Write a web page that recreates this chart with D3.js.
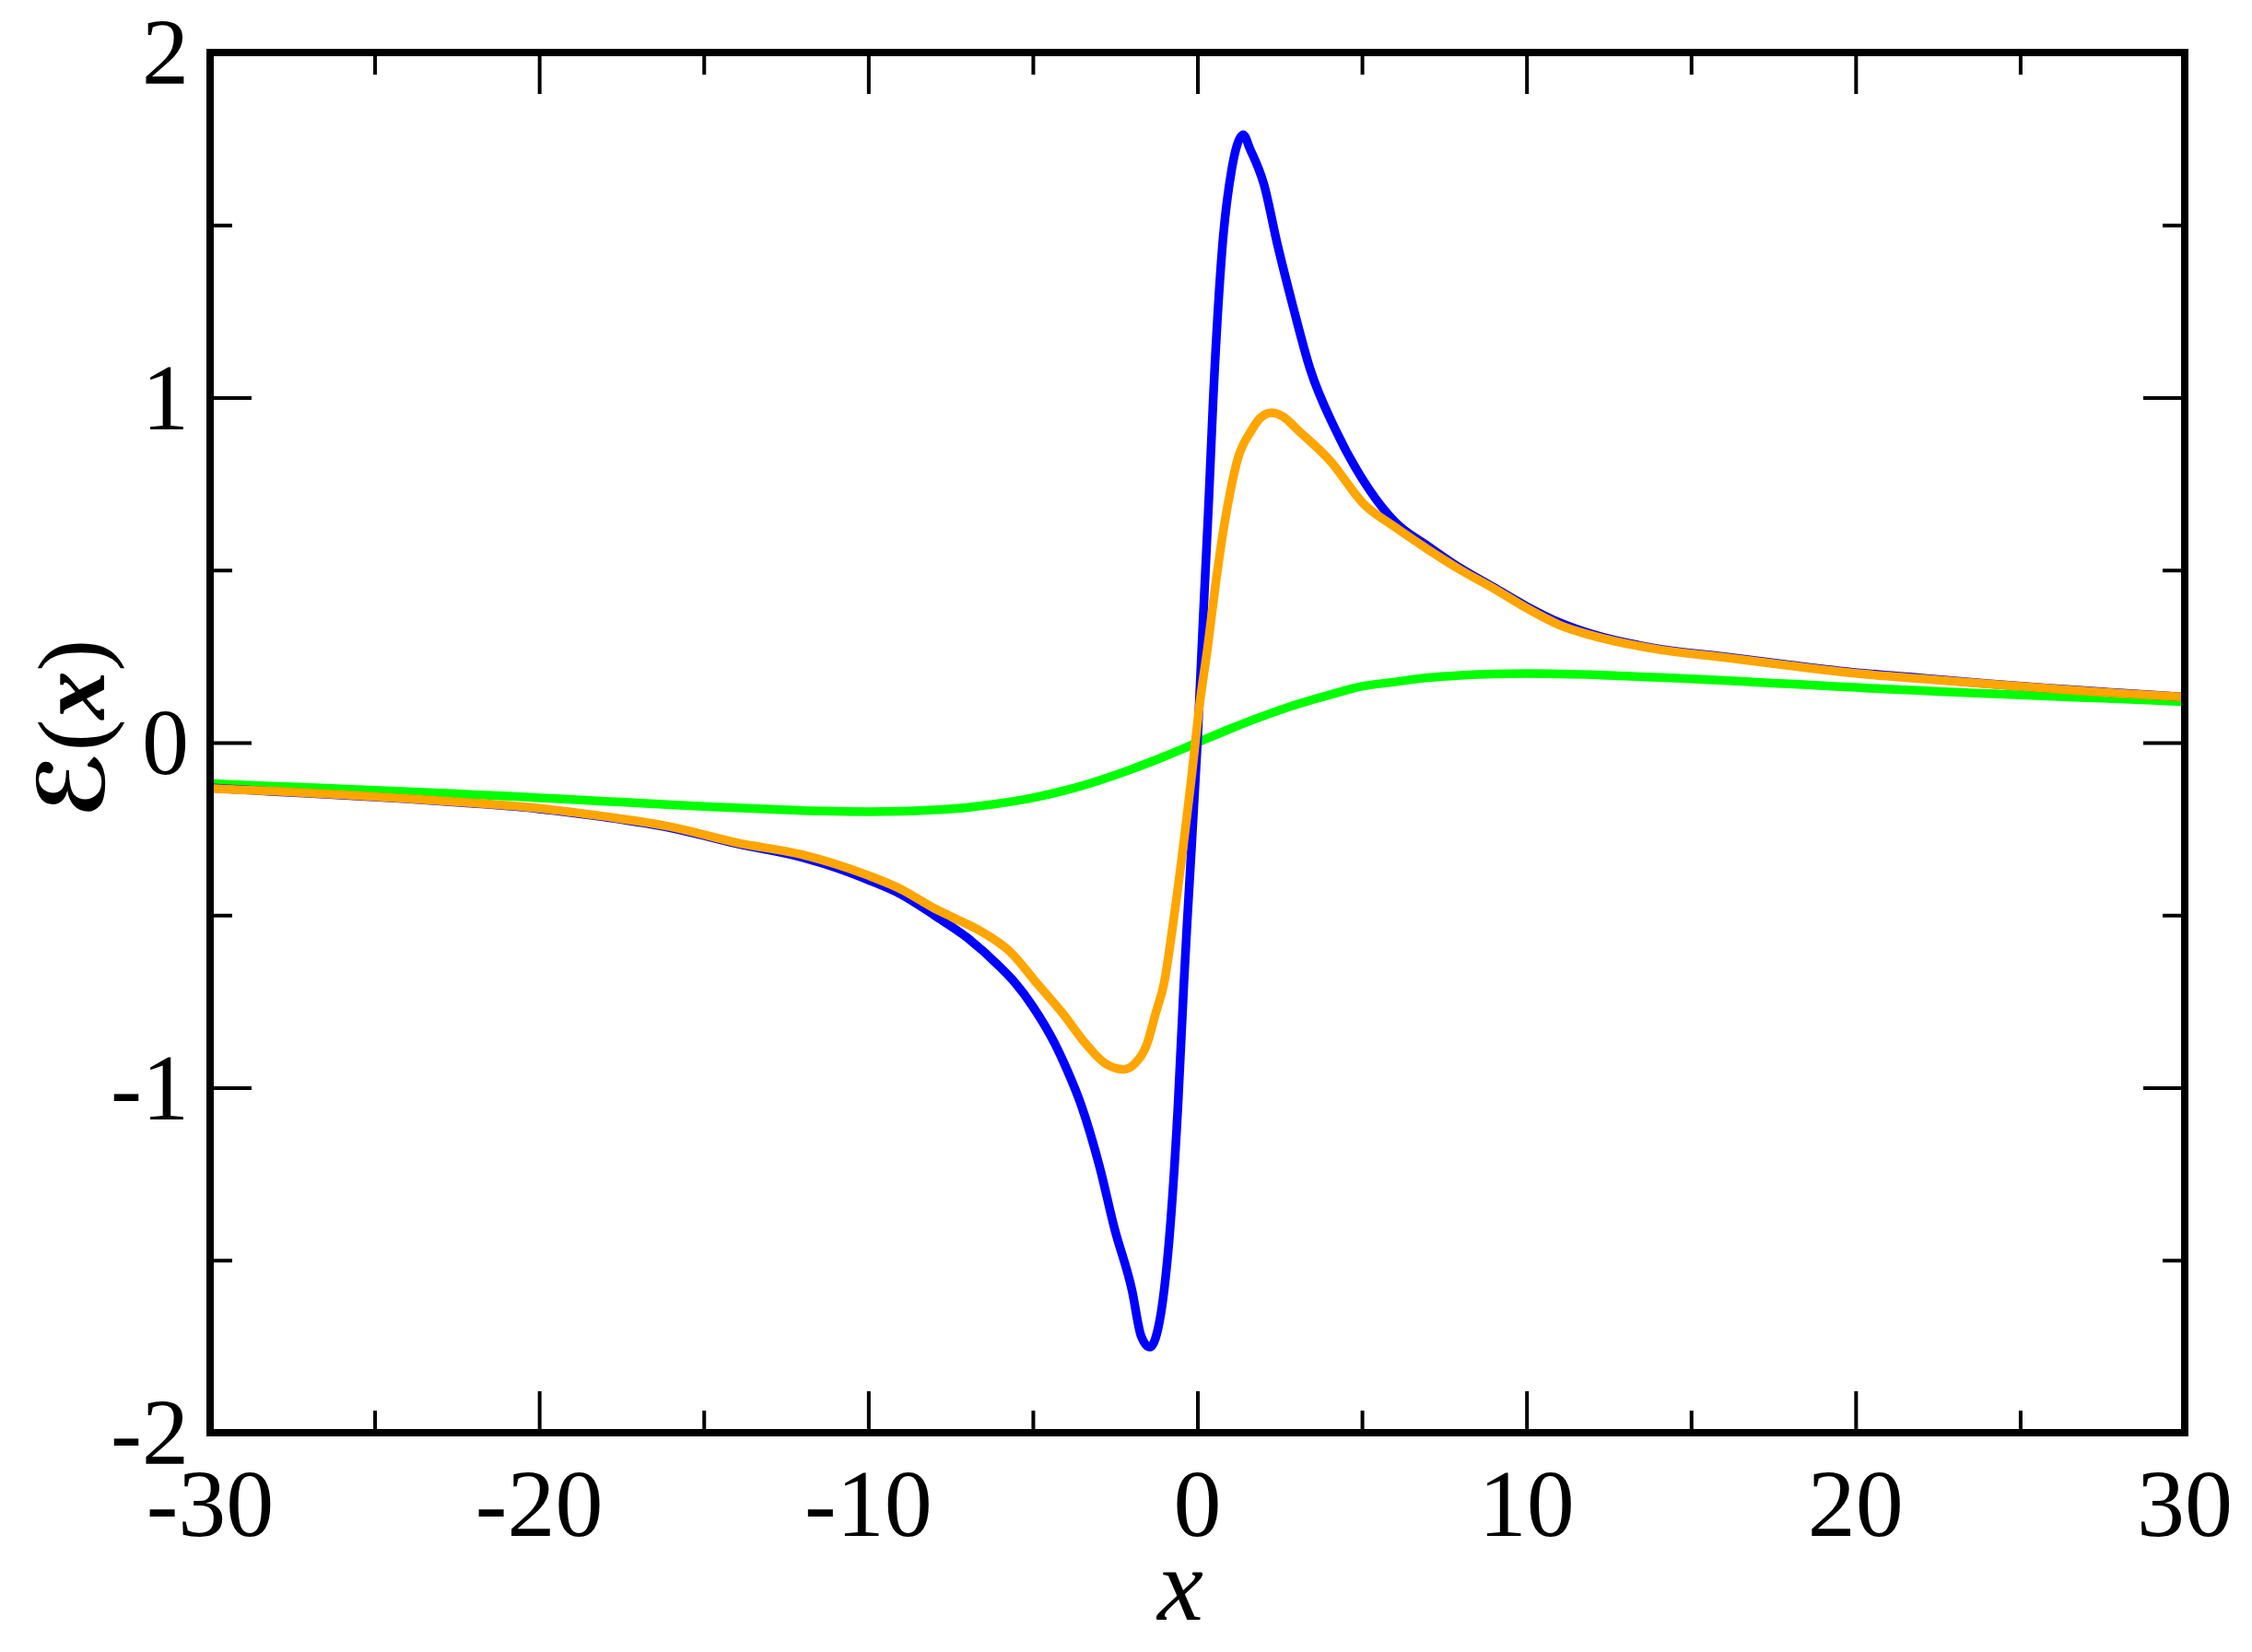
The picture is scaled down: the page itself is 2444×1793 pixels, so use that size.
<!DOCTYPE html>
<html>
<head>
<meta charset="utf-8">
<script src="https://cdn.jsdelivr.net/npm/d3@7"></script>
<style>
html,body{margin:0;padding:0;background:#fff;}
svg{display:block;}
</style>
</head>
<body>
<script>
// ---- data ----
const xDomain = [-30, 30];
const yDomain = [-2, 2];
const xMajorTicks = [-30, -20, -10, 0, 10, 20, 30];
const xMinorTicks = [-25, -15, -5, 5, 15, 25];
const yMajorTicks = [-2, -1, 0, 1, 2];
const yMinorTicks = [-1.5, -0.5, 0.5, 1.5];
const xLabel = "x";
const yLabelScript = "ℰ";
const yLabelArg = "x";

// blue series
const blueX = [-30,-28,-26,-24,-22,-20,-18,-16,-14,-12,-11,-10,-9,-8,-7,-6,-5.54,-5,-4.33,-4,-3.53,-2.97,-2.52,-1.99,-1.71,-1.45,-1.2,-1.01,-0.83,-0.59,-0.41,-0.31,0,0.18,0.34,0.48,0.76,1.04,1.2,1.39,1.6,2.02,2.44,2.91,3.42,4.2,5.26,6,7,8,9,10,11,12,14,16,18,20,22,24,26,28,30];
const blueY = [-0.131,-0.142,-0.152,-0.163,-0.176,-0.192,-0.216,-0.247,-0.293,-0.333,-0.362,-0.398,-0.44,-0.5,-0.565,-0.65,-0.696,-0.765,-0.873,-0.94,-1.051,-1.23,-1.408,-1.586,-1.72,-1.752,-1.70,-1.586,-1.408,-1.051,-0.696,-0.518,0.0,0.372,0.69,0.996,1.44,1.66,1.73,1.762,1.72,1.618,1.44,1.262,1.084,0.906,0.728,0.64,0.57,0.505,0.45,0.395,0.348,0.314,0.272,0.249,0.225,0.203,0.187,0.171,0.157,0.144,0.132];

// orange series
const orangeX = [-30,-28,-26,-24,-22,-20,-18,-16,-14,-12,-11,-10,-9,-8,-7.47,-6.61,-5.68,-4.89,-4.09,-3.39,-2.8,-2.23,-1.9,-1.53,-1.27,-1.01,-0.73,-0.19,0.06,0.32,0.555,0.83,1.0,1.21,1.65,1.9,2.25,2.6,3.05,4.03,5.05,6,7,8,9,10,11,12,14,16,18,20,22,24,26,28,30];
const orangeY = [-0.133,-0.141,-0.151,-0.162,-0.175,-0.19,-0.214,-0.244,-0.29,-0.325,-0.352,-0.385,-0.425,-0.48,-0.505,-0.545,-0.607,-0.696,-0.785,-0.873,-0.93,-0.947,-0.93,-0.873,-0.785,-0.696,-0.518,-0.109,0.105,0.283,0.461,0.639,0.728,0.817,0.906,0.94,0.956,0.945,0.906,0.817,0.692,0.625,0.56,0.5,0.447,0.39,0.341,0.31,0.27,0.247,0.223,0.201,0.185,0.17,0.156,0.143,0.132];

// green series
const greenX = [-30,-29,-28,-27,-26,-25,-24,-23,-22,-21,-20,-19,-18,-17,-16,-15,-14,-13,-12,-11,-10,-9,-8,-7,-6,-5,-4,-3,-2,-1,0,1,2,3,4,5,6,7,8,9,10,11,12,13,14,15,16,17,18,19,20,21,22,23,24,25,26,27,28,29,30];
const greenY = [-0.118,-0.123,-0.127,-0.130,-0.134,-0.138,-0.142,-0.146,-0.151,-0.155,-0.160,-0.165,-0.170,-0.175,-0.180,-0.185,-0.189,-0.193,-0.197,-0.199,-0.200,-0.199,-0.195,-0.188,-0.176,-0.160,-0.138,-0.110,-0.077,-0.040,0.0,0.040,0.077,0.110,0.138,0.163,0.176,0.188,0.195,0.199,0.200,0.199,0.197,0.193,0.189,0.185,0.180,0.175,0.170,0.165,0.160,0.155,0.151,0.146,0.142,0.138,0.134,0.130,0.127,0.123,0.118];

const series = [
  {name: "green", color: "#00ff00", xs: greenX, ys: greenY},
  {name: "blue", color: "#0000ff", xs: blueX, ys: blueY},
  {name: "orange", color: "#ffa500", xs: orangeX, ys: orangeY}
];

// ---- layout ----
const W = 2444, H = 1793;
const pL = 228, pR = 2371, pT = 57, pB = 1555;
const majorLen = 45, minorLen = 24;
const font = "'Liberation Serif','Times New Roman',serif";

const svg = d3.select("body").append("svg").attr("width", W).attr("height", H);
svg.append("rect").attr("width", W).attr("height", H).attr("fill", "#fff");

const x = d3.scaleLinear().domain(xDomain).range([pL, pR]);
const y = d3.scaleLinear().domain(yDomain).range([pB, pT]);

svg.append("clipPath").attr("id", "clip").append("rect")
  .attr("x", pL).attr("y", pT).attr("width", pR - pL).attr("height", pB - pT);

const line = d3.line().curve(d3.curveMonotoneX).x(d => x(d[0])).y(d => y(d[1]));
const g = svg.append("g").attr("clip-path", "url(#clip)");
series.forEach(s => {
  const pts = s.xs.map((v, i) => [v, s.ys[i]]);
  g.append("path").datum(pts).attr("d", line)
    .attr("fill", "none").attr("stroke", s.color).attr("stroke-width", 9.5)
    .attr("stroke-linejoin", "round").attr("stroke-linecap", "butt");
});

// ticks via d3 axes (inward)
function styleAxis(sel) {
  sel.select(".domain").remove();
  sel.selectAll(".tick line").attr("stroke", "#000").attr("stroke-width", 4);
  sel.selectAll(".tick text").remove();
}
const axes = [
  [() => d3.axisBottom(x), `translate(0,${pB})`, xMajorTicks, xMinorTicks],
  [() => d3.axisTop(x), `translate(0,${pT})`, xMajorTicks, xMinorTicks],
  [() => d3.axisLeft(y), `translate(${pL},0)`, yMajorTicks, yMinorTicks],
  [() => d3.axisRight(y), `translate(${pR},0)`, yMajorTicks, yMinorTicks]
];
axes.forEach(([mk, tr, maj, min]) => {
  svg.append("g").attr("transform", tr)
    .call(mk().tickValues(maj).tickSize(-majorLen).tickFormat(""))
    .call(styleAxis);
  svg.append("g").attr("transform", tr)
    .call(mk().tickValues(min).tickSize(-minorLen).tickFormat(""))
    .call(styleAxis);
});

// frame
svg.append("rect").attr("x", pL).attr("y", pT)
  .attr("width", pR - pL).attr("height", pB - pT)
  .attr("fill", "none").attr("stroke", "#000").attr("stroke-width", 8);

// tick labels
const fmt = d => String(d);
svg.append("g").selectAll("text").data(xMajorTicks).join("text")
  .attr("x", d => x(d)).attr("y", 1667)
  .attr("text-anchor", "middle").attr("font-family", font).attr("font-size", 104)
  .text(fmt);
svg.append("g").selectAll("text").data(yMajorTicks).join("text")
  .attr("x", 205).attr("y", d => y(d) + 34)
  .attr("text-anchor", "end").attr("font-family", font).attr("font-size", 102)
  .text(fmt);

// axis titles
svg.append("text").attr("x", 1281).attr("y", 1758)
  .attr("text-anchor", "middle").attr("font-family", font).attr("font-style", "italic")
  .attr("font-size", 112).text(xLabel);

const yl = svg.append("text").attr("transform", "translate(113,791) rotate(-90)")
  .attr("text-anchor", "middle").attr("font-family", font).attr("font-size", 104).attr("font-weight", "bold");
yl.append("tspan").attr("font-family", "'DejaVu Serif','DejaVu Sans',serif").attr("font-size", 100).text(yLabelScript);
yl.append("tspan").attr("font-weight", "normal").text("(");
yl.append("tspan").attr("font-style", "italic").text(yLabelArg);
yl.append("tspan").attr("font-weight", "normal").text(")");
</script>
</body>
</html>
